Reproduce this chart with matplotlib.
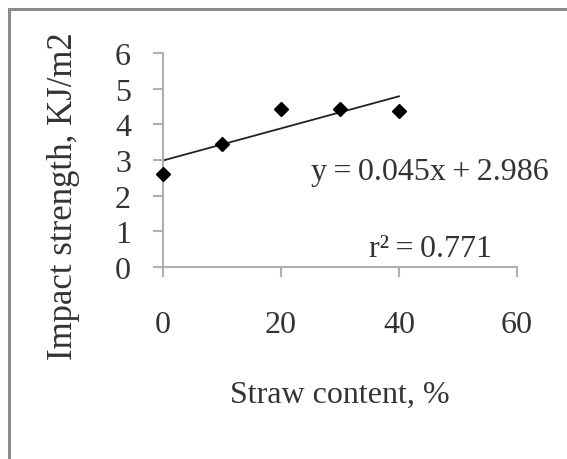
import matplotlib
matplotlib.use('Agg')
import matplotlib.pyplot as plt
from matplotlib.patches import Rectangle

# Datos
straw_content = [0, 10, 20, 30, 40]
impact_strength = [2.6, 3.45, 4.42, 4.42, 4.38]

# Línea de tendencia (según la ecuación del gráfico)
slope = 0.045
intercept = 2.986
trend_x = [0, 40]
eq_label = 'y\u2009=\u20090.045x\u2009+\u20092.986'
r2_label = 'r²\u2009=\u20090.771'

x_ticks = [0, 20, 40, 60]
y_ticks = [0, 1, 2, 3, 4, 5, 6]

W, H = 567, 460
TXT = '#333333'
plt.rcParams['font.family'] = ['Liberation Serif', 'DejaVu Serif']
plt.rcParams['font.size'] = 23

fig = plt.figure(figsize=(W / 100, H / 100), dpi=100)

# Marco exterior del gráfico
fig.patches.append(Rectangle((8.5 / W, -0.1), 1.2, 1 - 9.5 / H + 0.1,
                             transform=fig.transFigure, fill=False,
                             edgecolor='#8a8a8a', linewidth=2.2))

ax = fig.add_axes([163 / W, 1 - 268 / H, (517 - 163) / W, (268 - 54) / H])

ax.plot(straw_content, impact_strength, linestyle='none', marker='D',
        markersize=7.5, color='black', clip_on=False, zorder=3)
trend_y = [slope * x + intercept for x in trend_x]
ax.plot(trend_x, trend_y, color='#222222', linewidth=1.3, zorder=2)

ax.set_xlim(0, 60)
ax.set_ylim(0, 6)
ax.set_xticks(x_ticks)
ax.set_yticks(y_ticks)

for side in ['top', 'right']:
    ax.spines[side].set_visible(False)
for side in ['left', 'bottom']:
    ax.spines[side].set_color('#b0b0b0')
    ax.spines[side].set_linewidth(1.5)

ax.tick_params(axis='both', colors='#b0b0b0', width=1.5, length=7,
               labelcolor=TXT)
ax.tick_params(axis='x', pad=24)
ax.tick_params(axis='y', pad=16)

# Títulos de ejes colocados a mano
fig.text(340 / W, 1 - 395 / H, 'Straw content, %', ha='center', va='center',
         color=TXT)
fig.text(64 / W, 1 - 196 / H, 'Impact strength, KJ/m2', ha='center',
         va='center', rotation=90, color=TXT, fontsize=25)

fig.text(430 / W, 1 - 173 / H, eq_label, ha='center', va='center', color=TXT)
fig.text(430 / W, 1 - 250 / H, r2_label, ha='center', va='center', color=TXT)

fig.savefig('out.png', dpi=100, facecolor='white')
